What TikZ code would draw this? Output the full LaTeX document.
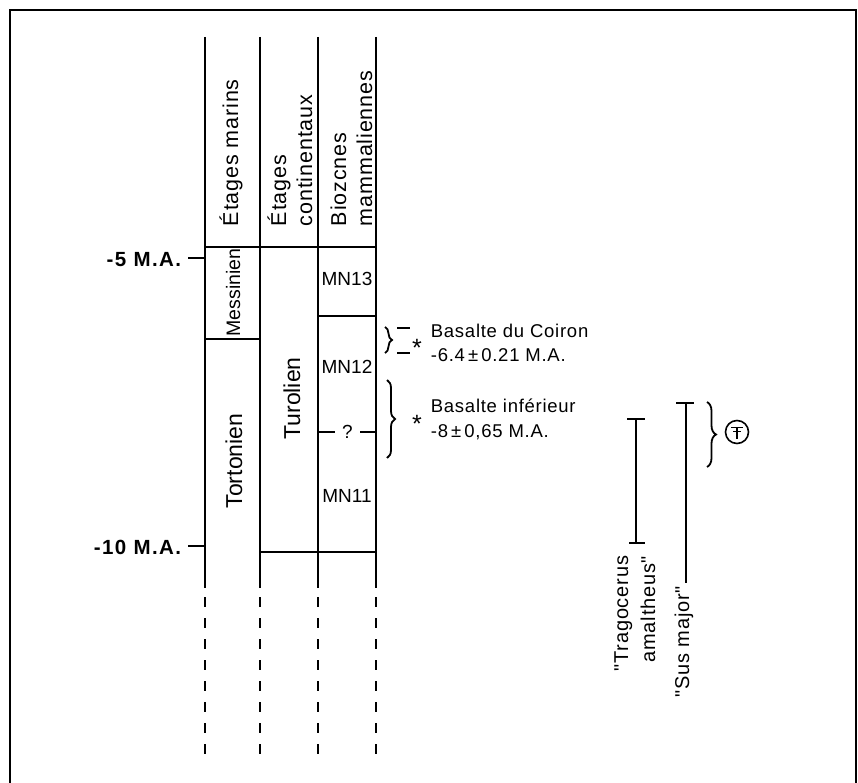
\documentclass[tikz,border=0pt]{standalone}
\usepackage{fontspec}
\setmainfont{Liberation Sans}
\newfontfamily\hdrfont[LetterSpace=4]{Liberation Sans}
\newfontfamily\notefont[LetterSpace=4]{Liberation Sans}
\newfontfamily\agefont[LetterSpace=7]{Liberation Sans}
\usetikzlibrary{decorations.pathreplacing}
\tikzset{
  colline/.style={line width=1.8pt},
  dashcol/.style={line width=1.8pt, dash pattern=on 10pt off 11pt},
  hdr/.style={rotate=90, anchor=base west, inner sep=0pt, font=\hdrfont\fontsize{21.5}{26}\selectfont},
  vlab/.style={rotate=90, anchor=base, inner sep=0pt, font=\fontsize{23}{26}\selectfont},
  mn/.style={anchor=base, inner sep=0pt, font=\fontsize{19}{22}\selectfont},
  note/.style={anchor=base west, inner sep=0pt, font=\notefont\fontsize{18.5}{22}\selectfont},
  star/.style={anchor=base, inner sep=0pt, font=\fontsize{25}{26}\selectfont},
  age/.style={anchor=base east, inner sep=0pt, font=\agefont\bfseries\fontsize{20.5}{24}\selectfont},
  taxon/.style={rotate=90, anchor=base east, inner sep=0pt, font=\notefont\fontsize{20}{24}\selectfont},
  bracebig/.style={line width=1.8pt, decorate, decoration={brace, amplitude=8pt}},
}
\begin{document}
\begin{tikzpicture}[x=1pt, y=-1pt, line width=1.8pt, line cap=butt]
\useasboundingbox (0,0) rectangle (858,783);
% frame
\draw[line width=2pt] (10,783) -- (10,10) -- (856,10) -- (856,783);
% columns
\foreach \x in {205,260,318,376} {
  \draw[colline] (\x,37) -- (\x,588);
  \draw[dashcol] (\x,597) -- (\x,762);
}
% horizontal boundaries
\draw[colline] (205,247) -- (376,247);
\draw[colline] (205,339) -- (260,339);
\draw[colline] (318,316) -- (376,316);
\draw[line width=2.3pt] (260,552) -- (376,552);
% headers
\node[hdr] (h1) at (238,227) {Étages marins};
\node[hdr] (h2a) at (286,227) {Étages};
\node[hdr] (h2b) at (312,227) {continentaux};
\node[hdr] (h3a) at (346,227) {Biozcnes};
\node[hdr] (h3b) at (372,227) {mammaliennes};
% stage names
\node[vlab, font=\fontsize{19.5}{22}\selectfont] (mes) at (240,292.5) {Messinien};
\node[vlab] (tor) at (242,461) {Tortonien};
\node[vlab] (tur) at (300,398.5) {Turolien};
% biozones
\node[mn] (mn13) at (347,285) {MN13};
\node[mn] (mn12) at (347,373) {MN12};
\node[mn] (mn11) at (347,502) {MN11};
\node[mn] (q) at (347.5,438) {?};
\coordinate (qL) at (318,432);
\coordinate (qR) at (376,432);
\draw (qL) -- (335,432);
\draw (360,432) -- (qR);
% ages
\node[age] (a5) at (182,267) {-5 M.A.};
\node[age] (a10) at (182,554) {-10 M.A.};
\coordinate (t5) at (205,258);
\coordinate (t10) at (205,546);
\draw (188,258) -- (t5);
\draw (188,546) -- (t10);
% basalts
\draw[bracebig, decoration={brace, amplitude=7pt}] (385,327) -- (385,353);
\draw (397,328) -- (410,328);
\draw (397,353) -- (410,353);
\node[star] (s1) at (417,356) {*};
\node[note] (b1) at (430,337) {Basalte du Coiron};
\node[note] (b1v) at (430,361) {-6.4\,±\,0.21 M.A.};
\draw[bracebig] (387,380) -- (387,458);
\node[star] (s2) at (417,432) {*};
\node[note] (b2) at (430,412) {Basalte inférieur};
\node[note] (b2v) at (430,437) {-8\,±\,0,65 M.A.};
% taxa ranges
\node[taxon] (tr1) at (628,555) {"Tragocerus};
\node[taxon] (tr2) at (655,555) {amaltheus"};
\coordinate (trT) at (636,419);
\coordinate (trB) at (636,543);
\draw (trT) -- (trB);
\draw (627,419) -- (645,419);
\draw (629,543) -- (645,543);
\node[taxon] (sus) at (689,585) {"Sus major"};
\coordinate (suT) at (686,403);
\draw (suT) -- (686,583);
\draw (676,403) -- (694,403);
% right brace and symbol
\draw[bracebig, decoration={brace, amplitude=9pt}] (707,402) -- (707,467);
\node[draw, circle, line width=1.6pt, minimum size=23pt, inner sep=0pt] (sym) at (737,432) {};
\draw[line width=1.6pt] ([shift={(-6,-4.5)}]sym.center) -- ([shift={(6,-4.5)}]sym.center);
\draw[line width=1.6pt] ([shift={(-4,-0.5)}]sym.center) -- ([shift={(4,-0.5)}]sym.center);
\draw[line width=1.6pt] ([shift={(0,-4.5)}]sym.center) -- ([shift={(0,7)}]sym.center);
\end{tikzpicture}
\end{document}
